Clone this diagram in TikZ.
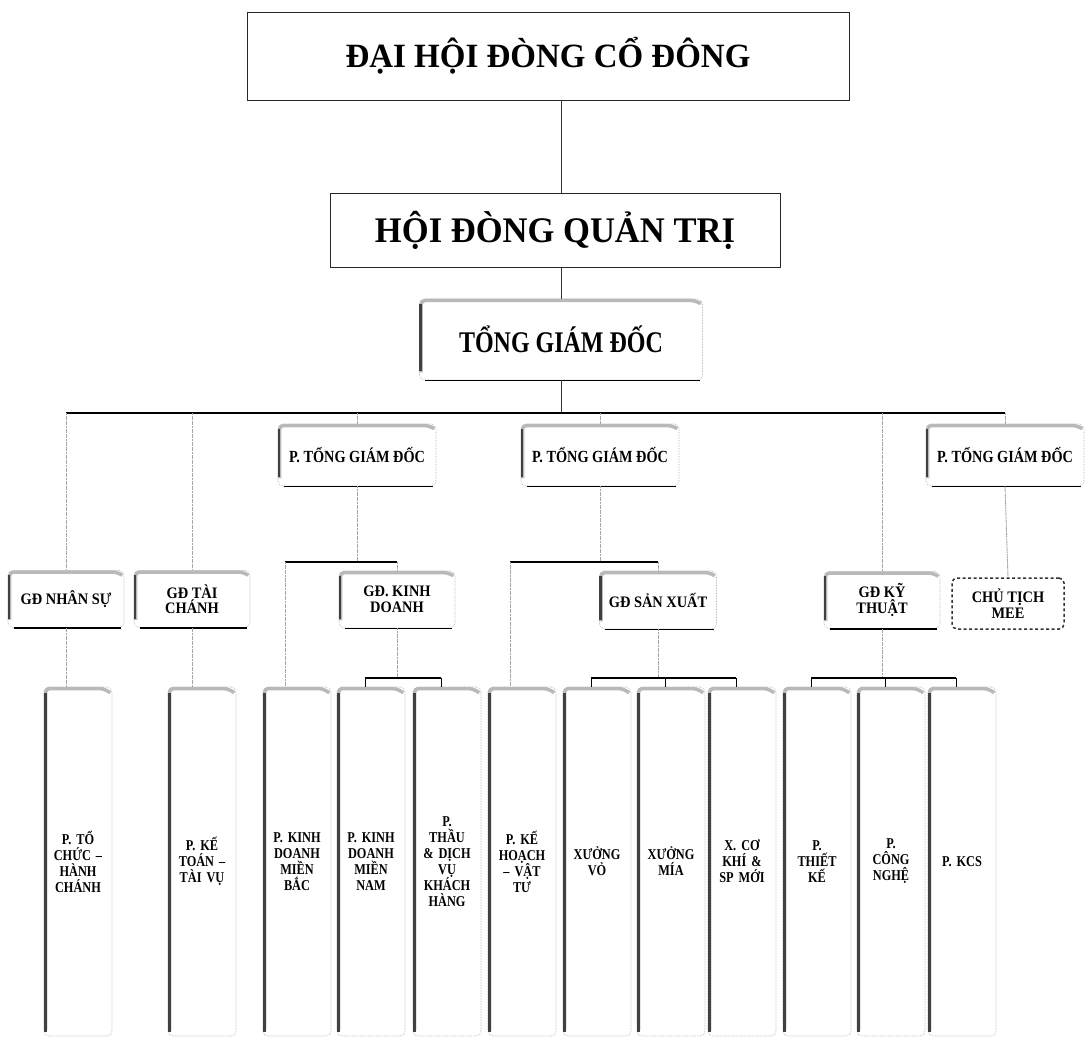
\documentclass[tikz,border=0pt]{standalone}
\usepackage{fontspec}
\setmainfont{Liberation Serif}
\newfontfamily\fTop[FakeStretch=0.97]{Liberation Serif}
\newfontfamily\fHd[FakeStretch=0.96]{Liberation Serif}
\newfontfamily\fTg[FakeStretch=0.80]{Liberation Serif}
\newfontfamily\fP[FakeStretch=0.84]{Liberation Serif}
\newfontfamily\fMid[FakeStretch=0.90]{Liberation Serif}
\newfontfamily\fTall[FakeStretch=0.82]{Liberation Serif}
\tikzset{
  plainbox/.style={draw=black!85, line width=0.9pt, fill=white, align=center, inner sep=0pt},
  sbox/.style={draw=gray!65, densely dotted, line width=0.6pt, rounded corners=5pt, fill=white, align=center, inner sep=1pt},
  meebox/.style={draw=black!80, dash pattern=on 3pt off 2.5pt, line width=1.5pt, rounded corners=5pt, fill=white, align=center, inner sep=1pt},
  band/.style={gray!55, line width=3.5pt, rounded corners=4pt},
  lband/.style={black!75, line width=2.6pt},
  bline/.style={black, line width=1.4pt},
  bus/.style={black, line width=1.3pt},
  tick/.style={black, line width=1pt},
  drop/.style={gray!70, line width=0.9pt, dash pattern=on 2pt off 0.6pt},
  spine/.style={black!80, line width=0.8pt},
  topfont/.style={font={\fTop\bfseries\fontsize{34pt}{38pt}\selectfont}},
  hdfont/.style={font={\fHd\bfseries\fontsize{36pt}{40pt}\selectfont}},
  tgfont/.style={font={\fTg\bfseries\fontsize{30pt}{34pt}\selectfont}},
  pfont/.style={font={\fP\bfseries\fontsize{17pt}{19pt}\selectfont}},
  midfont/.style={font={\fMid\bfseries\fontsize{16pt}{15.5pt}\selectfont}},
  tallfont/.style={font={\fTall\bfseries\fontsize{15pt}{16pt}\selectfont}},
  pgd/.style={sbox, pfont, minimum width=158pt, minimum height=62pt},
  gd/.style={sbox, midfont, minimum width=116pt, minimum height=57pt},
  tall/.style={sbox, tallfont, minimum width=68pt, minimum height=349pt, text width=62pt},
}
% decoration for shadowed boxes with black bottom line
\newcommand\decoA[1]{%
  \draw[band] ([xshift=1.8pt,yshift=8pt]#1.south west) -- ([xshift=1.8pt,yshift=-1.8pt]#1.north west) -- ([xshift=-8pt,yshift=-1.8pt]#1.north east) -- ([xshift=-2pt,yshift=-5pt]#1.north east);
  \draw[lband] ([xshift=1.3pt,yshift=9pt]#1.south west) -- ([xshift=1.3pt,yshift=-5pt]#1.north west);
  \draw[bline] ([xshift=6pt]#1.south west) -- ([xshift=-3pt]#1.south east);
}
% decoration for tall boxes
\newcommand\decoB[1]{%
  \draw[band] ([xshift=1.8pt,yshift=6pt]#1.south west) -- ([xshift=1.8pt,yshift=-1.8pt]#1.north west) -- ([xshift=-9pt,yshift=-1.8pt]#1.north east) -- ([xshift=-2pt,yshift=-6pt]#1.north east);
  \draw[lband, line width=2.8pt] ([xshift=1.4pt,yshift=4pt]#1.south west) -- ([xshift=1.4pt,yshift=-6pt]#1.north west);
}
\begin{document}
\begin{tikzpicture}[x=1pt,y=-1pt]
\useasboundingbox[fill=white] (0,0) rectangle (1092,1040);

% helper levels
\coordinate (busy) at (0,413);
\coordinate (s1) at (0,562);
\coordinate (s2) at (0,678);

% top boxes
\node[plainbox, topfont, minimum width=602pt, minimum height=88pt] (dh) at (548,56) {ĐẠI HỘI ĐÒNG CỔ ĐÔNG};
\node[plainbox, hdfont, minimum width=450pt, minimum height=74pt] (hd) at (555,230) {HỘI ĐÒNG QUẢN TRỊ};
\node[sbox, tgfont, minimum width=283pt, minimum height=81pt] (tg) at (561,339.5) {TỔNG GIÁM ĐỐC};
\decoA{tg}

% deputy general directors
\node[pgd] (p1) at (357,455) {P. TỔNG GIÁM ĐỐC};
\node[pgd] (p2) at (600,455) {P. TỔNG GIÁM ĐỐC};
\node[pgd] (p3) at (1005,455) {P. TỔNG GIÁM ĐỐC};
\decoA{p1}\decoA{p2}\decoA{p3}

% directors
\node[gd] (ns) at (66,599) {GĐ NHÂN SỰ};
\node[gd] (tc) at (192,599) {GĐ TÀI\\CHÁNH};
\node[gd] (kd) at (397,599.5) {GĐ. KINH\\DOANH};
\node[gd, minimum width=117pt, minimum height=58pt] (sx) at (658,600) {GĐ SẢN XUẤT};
\node[gd] (kt) at (882,600) {GĐ KỸ\\THUẬT};
\decoA{ns}\decoA{tc}\decoA{kd}\decoA{sx}\decoA{kt}
\node[meebox, midfont, minimum width=112pt, minimum height=51pt] (mee) at (1008,603.5) {CHỦ TỊCH\\MEE};

% departments
\node[tall] (a) at (78,861.5) {P. TỔ\\CHỨC –\\HÀNH\\CHÁNH};
\node[tall] (b) at (202,861.5) {P. KẾ\\TOÁN –\\TÀI VỤ};
\node[tall] (c) at (297,861.5) {P. KINH\\DOANH\\MIỀN\\BẮC};
\node[tall] (d) at (371,861.5) {P. KINH\\DOANH\\MIỀN\\NAM};
\node[tall] (e) at (447,861.5) {P.\\THẦU\\\& DỊCH\\VỤ\\KHÁCH\\HÀNG};
\node[tall] (f) at (522,861.5) {P. KẾ\\HOẠCH\\– VẬT\\TƯ};
\node[tall] (g) at (597,861.5) {XƯỞNG\\VỎ};
\node[tall] (h) at (671,861.5) {XƯỞNG\\MÍA};
\node[tall] (i) at (742,861.5) {X. CƠ\\KHÍ \&\\SP MỚI};
\node[tall] (j) at (817,861.5) {P.\\THIẾT\\KẾ};
\node[tall] (k) at (891,861.5) {P.\\CÔNG\\NGHỆ};
\node[tall] (l) at (962,861.5) {P. KCS};
\foreach \n in {a,b,c,d,e,f,g,h,i,j,k,l} {\decoB{\n}}

% attachment points on departments
\coordinate (cT) at ([xshift=-12pt]c.north);
\coordinate (fT) at ([xshift=-12pt]f.north);
\foreach \n in {d,e,g,h,i,j,k,l} {\coordinate (\n T) at ([xshift=-6pt]\n.north);}

% spine
\draw[spine] (dh.south -| tg.north) -- (hd.north -| tg.north);
\draw[spine] (hd.south -| tg.north) -- (tg.north);
\draw[spine] (tg.south) -- (tg.south |- busy);

% main bus
\draw[bus] (ns.north |- busy) -- (p3.north |- busy);
\foreach \n in {ns,tc,p1,p2,kt,p3} {\draw[drop] (\n.north |- busy) -- (\n.north);}
\draw[drop] (p3.south) -- (mee.north);

% deputy 1
\draw[drop] (p1.south) -- (p1.south |- s1);
\draw[bus] (cT |- s1) -- (kd.north |- s1);
\draw[drop] (cT |- s1) -- (cT);
\draw[drop] (kd.north |- s1) -- (kd.north);

% deputy 2
\draw[drop] (p2.south) -- (p2.south |- s1);
\draw[bus] (fT |- s1) -- (sx.north |- s1);
\draw[drop] (fT |- s1) -- (fT);
\draw[drop] (sx.north |- s1) -- (sx.north);

% direct departments
\draw[drop] (ns.south) -- (ns.south |- a.north);
\draw[drop] (tc.south) -- (tc.south |- b.north);

% sales director
\draw[drop] (kd.south) -- (kd.south |- s2);
\draw[bus] (dT |- s2) -- (eT |- s2);
\foreach \n in {d,e} {\draw[tick] (\n T |- s2) -- (\n T);}

% production director
\draw[drop] (sx.south) -- (sx.south |- s2);
\draw[bus] (gT |- s2) -- (iT |- s2);
\foreach \n in {g,h,i} {\draw[tick] (\n T |- s2) -- (\n T);}

% technical director
\draw[drop] (kt.south) -- (kt.south |- s2);
\draw[bus] (jT |- s2) -- (lT |- s2);
\foreach \n in {j,k,l} {\draw[tick] (\n T |- s2) -- (\n T);}
\end{tikzpicture}
\end{document}
